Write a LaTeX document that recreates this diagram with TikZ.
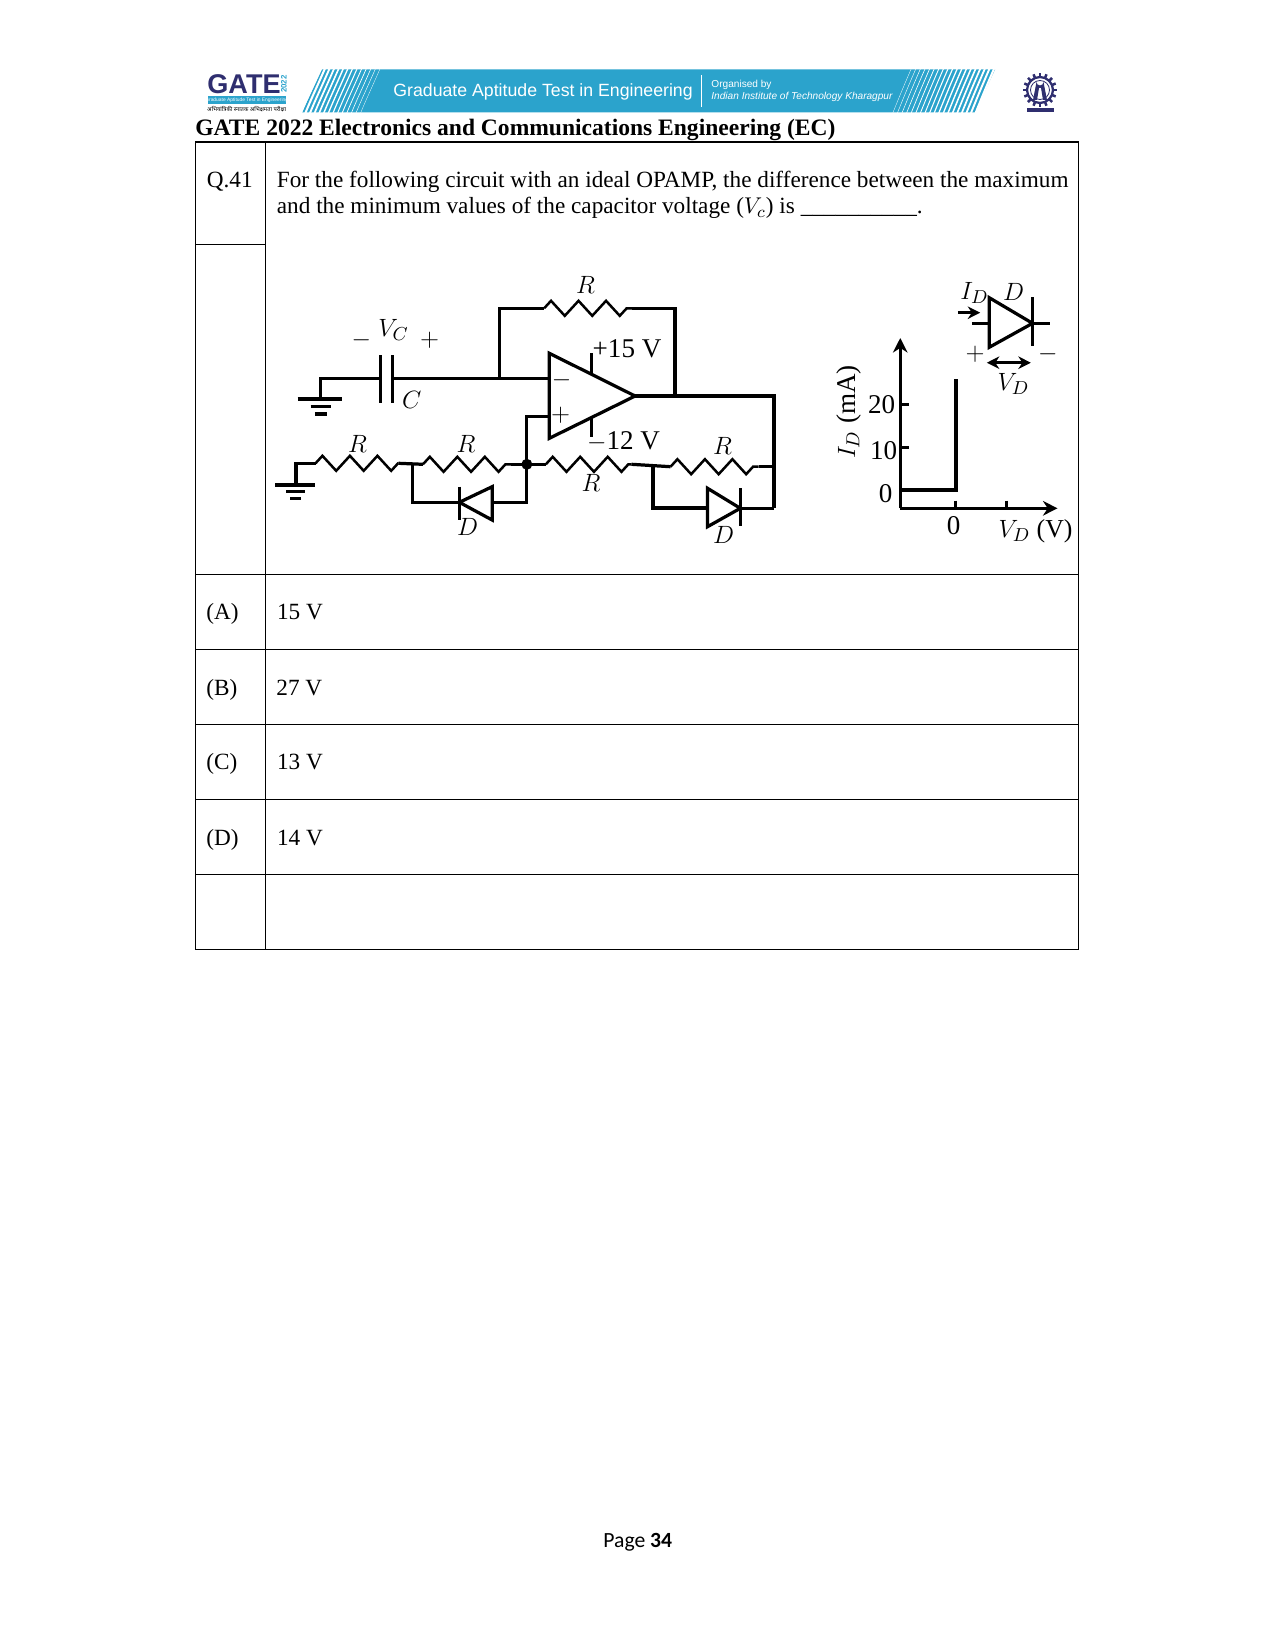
\documentclass[tikz,border=0pt]{standalone}
\usepackage{fontspec}
\setmainfont{Liberation Serif}
\newfontfamily\arialfont{Liberation Sans}
\newfontfamily\pagefont{Carlito}
\newfontfamily\hindifont[Script=Devanagari]{Noto Sans}
\usetikzlibrary{arrows.meta,decorations.pathmorphing}

\definecolor{gatenavy}{HTML}{2F2E6F}
\definecolor{gateblue}{HTML}{2BA3CC}

\tikzset{
	wire/.style={line width=1.55pt,line join=miter},
	thickwire/.style={line width=1.85pt},
	reswire/.style={line width=1.2pt,decorate,decoration={zigzag,segment length=13.2pt,amplitude=3.6pt}},
	tablerule/.style={line width=0.5pt},
	body/.style={anchor=base west,inner sep=0pt,font=\fontsize{11.15}{13}\selectfont},
	clabel/.style={inner sep=0pt,font=\fontsize{13}{15}\selectfont},
}

\begin{document}
\begin{tikzpicture}[x=0.48pt,y=-0.48pt]

	\useasboundingbox (0,0) rectangle (1275,1651);

	% banner
	\fill[gateblue] (322,69.5) -- (995,69.5) -- (975,112.5) -- (302,112.5) -- cycle;
	\foreach \i in {0,...,13}
		\draw[white,line width={1.05pt-0.07pt*\i}] ({321+4.6*\i},67) .. controls ({311+4.6*\i},90) and ({306+4.6*\i},100) .. ({300+4.6*\i},115);
	\foreach \i in {0,...,18}
		\draw[white,line width={0.15pt+0.045pt*\i}] ({912+4.6*\i},67) .. controls ({902+4.6*\i},90) and ({898+4.6*\i},100) .. ({892+4.6*\i},115);

	\node[anchor=base west,inner sep=0pt,white,font=\arialfont\fontsize{8.5}{11}\selectfont] (bannertitle) at (393,96.5) {Graduate Aptitude Test in Engineering};
	\draw[white,line width=0.4pt] (701,75) -- (701,107);
	\node[anchor=base west,inner sep=0pt,white,font=\arialfont\fontsize{4.85}{6}\selectfont] (bannerorg) at (711,88) {Organised by};
	\node[anchor=base west,inner sep=0pt,white,font=\arialfont\itshape\fontsize{4.85}{6}\selectfont] (banneriit) at (711,100) {Indian Institute of Technology Kharagpur};

	% GATE logo
	\node[anchor=base west,inner sep=0pt,gatenavy,font=\arialfont\bfseries\fontsize{13}{14}\selectfont] (gatelogo) at (207,94) {GATE};
	\node[rotate=90,inner sep=0pt,gateblue,font=\arialfont\bfseries\fontsize{3.8}{4}\selectfont] (gateyear) at (284,84) {2022};
	\fill[gateblue] (207.5,96) rectangle (286,104);
	\node[inner sep=0pt,white,font=\arialfont\fontsize{2.35}{4}\selectfont] (gatebar) at (246.7,100) {Graduate Aptitude Test in Engineering};
	\node[inner sep=0pt,black,font=\hindifont\fontsize{2.75}{4}\selectfont] (gatehindi) at (246.7,108.7) {अभियांत्रिकी स्नातक अभिक्षमता परीक्षा};

	% emblem
	\foreach \ang in {0,22.5,...,337.5}
		\draw[gatenavy,line width=1.2pt] (1040,90) ++(\ang:12) -- ++(\ang:5);
	\draw[gatenavy,line width=1.1pt] (1040,90) circle (13);
	\draw[gatenavy,line width=0.4pt] (1040,90) circle (9.5);
	\fill[gatenavy] (1033,100) -- (1036.5,82) arc (180:0:3.5) -- (1047,100) -- (1043,100) -- (1041,88) -- (1039,88) -- (1037,100) -- cycle;
	\fill[gatenavy] (1027,108) rectangle (1054,112.5);

	% title and table
	\node[anchor=base west,inner sep=0pt,font=\bfseries\fontsize{11.3}{14}\selectfont] (title) at (195,136) {GATE 2022 Electronics and Communications Engineering (EC)};

	\draw[tablerule] (195.5,142) rectangle (1078.5,949.5);
	\draw[tablerule] (265.7,142) -- (265.7,949.5);
	\draw[tablerule] (195.5,244.5) -- (265.7,244.5);
	\foreach \ypos in {574.8,649.8,724.8,799.8,874.8}
		\draw[tablerule] (195.5,\ypos) -- (1078.5,\ypos);

	\node[body] (qno) at (206.5,187.5) {Q.41};
	\node[body] (qlineone) at (276.5,187.5) {For the following circuit with an ideal OPAMP, the difference between the maximum};
	\node[body] (qlinetwo) at (276.5,214) {and the minimum values of the capacitor voltage ($V_c$) is \_\_\_\_\_\_\_\_\_\_.};

	\node[body] (opta) at (206,619.5) {(A)};
	\node[body] (optb) at (206,695) {(B)};
	\node[body] (optc) at (206,769.5) {(C)};
	\node[body] (optd) at (206,845) {(D)};
	\node[body] (vala) at (276.7,619.5) {15 V};
	\node[body] (valb) at (276,695) {27 V};
	\node[body] (valc) at (276.7,769.5) {13 V};
	\node[body] (vald) at (276.7,845) {14 V};

	\node[anchor=base west,inner sep=0pt,font=\pagefont\fontsize{10.4}{13}\selectfont] (pageno) at (603,1547) {Page \textbf{34}};

\begin{scope}[xshift=-0.7pt]

	% circuit points
	\coordinate (gndc) at (322.3,378.3);
	\coordinate (gndcb) at (322.3,399);
	\coordinate (capl) at (381.8,378.3);
	\coordinate (capr) at (394.3,378.3);
	\coordinate (fbjoin) at (501.3,378.3);
	\coordinate (fbtop) at (501.3,308.3);
	\coordinate (rfl) at (545.6,308.3);
	\coordinate (rfr) at (633.8,308.3);
	\coordinate (fbright) at (676.4,308.3);
	\coordinate (outjoin) at (676.4,396);
	\coordinate (invin) at (550.8,378.3);
	\coordinate (noninv) at (550.8,416.7);
	\coordinate (oppin) at (528.3,416.7);
	\coordinate (oa) at (550.8,353.3);
	\coordinate (ob) at (550.8,438.3);
	\coordinate (oc) at (636.6,396);
	\coordinate (outcorner) at (775.8,396);
	\coordinate (rightbot) at (775.8,508.3);
	\coordinate (midjoin) at (528.3,464.3);
	\coordinate (gndr) at (297.4,463.3);
	\coordinate (gndrb) at (297.4,485);
	\coordinate (ronel) at (317,463.3);
	\coordinate (roner) at (400,463.3);
	\coordinate (leftjoin) at (414,463.3);
	\coordinate (rtwol) at (424.4,464.3);
	\coordinate (rtwor) at (512.7,464.3);
	\coordinate (rthreel) at (547.3,464.3);
	\coordinate (rthreer) at (633,464.3);
	\coordinate (rightjoin) at (654.6,464.3);
	\coordinate (rfourl) at (672,466.7);
	\coordinate (rfourr) at (760,466.7);
	\coordinate (rfourend) at (775.8,466.7);
	\coordinate (dlbl) at (414,502.3);
	\coordinate (dlbr) at (528.3,502.3);
	\coordinate (dltip) at (460.8,502.3);
	\coordinate (dlbase) at (493.6,502.3);
	\coordinate (drbl) at (654.6,508.3);
	\coordinate (drbase) at (709,508.3);
	\coordinate (drtip) at (741.8,508.3);

	% capacitor branch
	\draw[wire] (gndcb) -- (gndc) -- (capl);
	\draw[wire] (capl) ++(0,-23.3) -- ++(0,47.7);
	\draw[wire] (capr) ++(0,-23.3) -- ++(0,47.7);
	\draw[wire] (capr) -- (invin);
	\draw[wire] (299,399) -- (343.8,399);
	\draw[wire] (312,406.7) -- (332.7,406.7);
	\draw[wire] (316.4,414) -- (328.2,414);

	% feedback
	\draw[wire] (fbjoin) -- (fbtop) -- (rfl);
	\draw[reswire] (rfl) -- (rfr);
	\draw[wire] (rfr) -- (fbright) -- (outjoin);

	% opamp
	\draw[wire,line join=miter] (oa) -- (oc) -- (ob) -- cycle;
	\draw[wire] (593,353.3) -- (593,373);
	\draw[wire] (593,417) -- (593,437.3);
	\draw[thickwire] (oc) -- (outcorner) -- (rightbot);
	\draw[wire] (midjoin) -- (oppin) -- (noninv);

	% lower row
	\draw[wire] (gndrb) -- (gndr) -- (ronel);
	\draw[reswire] (ronel) -- (roner);
	\draw[wire] (roner) -- (rtwol);
	\draw[reswire] (rtwol) -- (rtwor);
	\draw[wire] (rtwor) -- (rthreel);
	\draw[reswire] (rthreel) -- (rthreer);
	\draw[wire] (rthreer) -- (rfourl);
	\draw[reswire] (rfourl) -- (rfourr);
	\draw[wire] (rfourr) -- (rfourend);
	\fill (midjoin) circle (5.5);
	\draw[wire] (276.6,485) -- (316,485);
	\draw[wire] (287.7,491.5) -- (306.7,491.5);
	\draw[wire] (291.8,498.7) -- (302.2,498.7);

	% diodes
	\draw[wire] (leftjoin) -- (dlbl) -- (dltip);
	\draw[wire] (midjoin) -- (dlbr) -- (dlbase);
	\draw[wire] (493.6,486.7) -- (493.6,520) -- (dltip) -- cycle;
	\draw[wire] (460.8,486.7) -- (460.8,520);
	\draw[thickwire] (rightjoin) -- (drbl) -- (drbase);
	\draw[wire] (drtip) -- (rightbot);
	\draw[wire] (709,488.3) -- (709,526.7) -- (drtip) -- cycle;
	\draw[wire] (741.8,488.3) -- (741.8,526);

	% circuit labels
	\node[clabel] (lrf) at (587,285) {$R$};
	\node[clabel] (lvc) at (395,330) {$V_C$};
	\node[clabel] (lcm) at (362.8,340) {$-$};
	\node[clabel] (lcp) at (431,340) {$+$};
	\node[clabel] (lc) at (413.3,400) {$C$};
	\node[clabel] (lpos) at (628.5,348.3) {+15 V};
	\node[clabel] (lneg) at (625,441.7) {$-$12 V};
	\node[clabel] (lim) at (563,380) {$-$};
	\node[clabel] (lip) at (562,415) {$+$};
	\node[clabel] (lrone) at (359,444.3) {$R$};
	\node[clabel] (lrtwo) at (467.5,444.3) {$R$};
	\node[clabel] (lrthree) at (592.5,483.3) {$R$};
	\node[clabel] (lrfour) at (724,445.7) {$R$};
	\node[clabel] (ldl) at (469,526.7) {$D$};
	\node[clabel] (ldr) at (725,535) {$D$};

	% characteristic
	\coordinate (origin) at (901.7,508.3);
	\coordinate (yend) at (901.7,338);
	\coordinate (xend) at (1059,508.3);
	\coordinate (ivknee) at (957.3,490);
	\coordinate (ivleft) at (901.7,490);
	\coordinate (ivtop) at (957.3,379.3);
	\draw[wire,-{Stealth[length=7pt,width=7pt]}] (origin) -- (yend);
	\draw[wire,-{Stealth[length=7pt,width=7pt]}] (origin) -- (xend);
	\draw[thickwire] (ivleft) -- (ivknee) -- (ivtop);
	\draw[wire] (901.7,404.3) -- (910,404.3);
	\draw[wire] (901.7,447.7) -- (910,447.7);
	\draw[wire] (957.3,500.7) -- (957.3,508.3);
	\draw[wire] (1008.3,500.7) -- (1008.3,508.3);
	\node[clabel] (ltwenty) at (883,404.3) {20};
	\node[clabel] (lten) at (885,450.7) {10};
	\node[clabel] (lzeroy) at (887,493.3) {0};
	\node[clabel] (lzerox) at (955,526) {0};
	\node[clabel,font=\fontsize{12.4}{15}\selectfont] (lxaxis) at (1037,531) {$V_D$ (V)};
	\node[clabel,rotate=90] (lyaxis) at (850,412) {$I_D$ (mA)};

	% diode key
	\coordinate (kleft) at (973.3,323.3);
	\coordinate (kbase) at (990.7,323.3);
	\coordinate (ktip) at (1034,323.3);
	\coordinate (kright) at (1051.7,323.3);
	\draw[wire] (kleft) -- (kbase);
	\draw[wire] (ktip) -- (kright);
	\draw[wire] (990.7,297.7) -- (990.7,347.3) -- (ktip) -- cycle;
	\draw[wire] (1034,297.3) -- (1034,346);
	\coordinate (ida) at (959.3,312.7);
	\coordinate (idb) at (981.7,312.7);
	\coordinate (vda) at (988.3,362.7);
	\coordinate (vdb) at (1032.3,362.7);
	\draw[wire,-{Stealth[length=6pt,width=6pt]}] (ida) -- (idb);
	\draw[wire,{Stealth[length=6pt,width=6pt]}-{Stealth[length=6pt,width=6pt]}] (vda) -- (vdb);
	\node[clabel] (lid) at (976,292.7) {$I_D$};
	\node[clabel] (ld) at (1015,291.7) {$D$};
	\node[clabel] (lkp) at (976.5,354.3) {$+$};
	\node[clabel] (lkm) at (1049.3,354.3) {$-$};
	\node[clabel] (lvd) at (1015,384.3) {$V_D$};

\end{scope}

\end{tikzpicture}
\end{document}
